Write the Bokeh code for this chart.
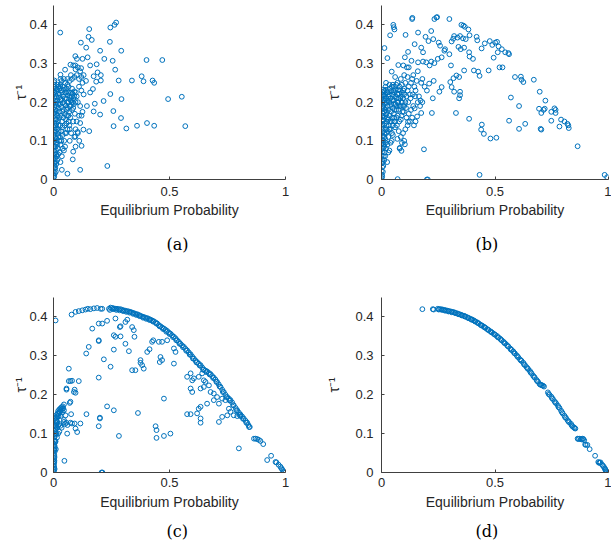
from bokeh.plotting import figure
from bokeh.layouts import gridplot
from bokeh.models import Title, Range1d, FixedTicker
from bokeh.embed import file_html
from bokeh.resources import INLINE

# ---------------- data ----------------
a_pts = [
    (0.029,0.380),(0.154,0.389),(0.270,0.406),(0.263,0.400),(0.245,0.393),(0.151,0.369),(0.165,0.361),
    (0.118,0.354),(0.243,0.356),(0.141,0.341),(0.201,0.333),(0.292,0.333),(0.094,0.319),(0.147,0.316),
    (0.101,0.312),(0.125,0.312),(0.219,0.312),(0.255,0.307),(0.401,0.309),(0.469,0.309),(0.073,0.297),
    (0.186,0.298),(0.119,0.288),(0.266,0.284),(0.050,0.284),(0.094,0.295),(0.158,0.295),(0.190,0.277),
    (0.204,0.270),(0.173,0.267),(0.184,0.253),(0.204,0.256),(0.281,0.256),(0.338,0.256),(0.380,0.267),
    (0.388,0.254),(0.427,0.256),(0.434,0.250),(0.030,0.271),(0.004,0.256),(0.029,0.240),(0.170,0.234),
    (0.245,0.221),(0.158,0.225),(0.293,0.208),(0.216,0.203),(0.494,0.208),(0.553,0.214),(0.178,0.196),
    (0.144,0.190),(0.173,0.176),(0.258,0.177),(0.201,0.168),(0.291,0.159),(0.259,0.138),(0.314,0.132),
    (0.360,0.139),(0.403,0.146),(0.434,0.139),(0.568,0.138),(0.121,0.165),(0.129,0.129),(0.154,0.125),
    (0.115,0.146),(0.104,0.123),(0.094,0.111),(0.111,0.100),(0.121,0.087),(0.095,0.085),(0.085,0.072),
    (0.083,0.052),(0.232,0.035),(0.115,0.025),(0.060,0.015),(0.036,0.025),
    # dense cluster near the origin
    (0.001,0.005),(0.002,0.012),(0.001,0.020),(0.003,0.028),(0.002,0.036),(0.004,0.044),(0.001,0.052),
    (0.003,0.060),(0.005,0.068),(0.002,0.076),(0.004,0.084),(0.006,0.092),(0.003,0.100),(0.005,0.108),
    (0.002,0.116),(0.007,0.124),(0.004,0.132),(0.006,0.140),(0.003,0.148),(0.008,0.156),(0.005,0.164),
    (0.002,0.172),(0.007,0.180),(0.004,0.188),(0.009,0.196),(0.006,0.204),(0.003,0.212),(0.008,0.220),
    (0.005,0.228),(0.010,0.236),(0.004,0.245),(0.002,0.252),
    (0.010,0.020),(0.012,0.040),(0.014,0.060),(0.011,0.075),(0.016,0.090),(0.013,0.105),(0.018,0.118),
    (0.015,0.130),(0.012,0.145),(0.020,0.152),(0.017,0.165),(0.014,0.178),(0.022,0.185),(0.019,0.195),
    (0.016,0.205),(0.024,0.212),(0.020,0.222),(0.015,0.232),(0.026,0.236),
    (0.026,0.070),(0.030,0.090),(0.028,0.110),(0.033,0.125),(0.030,0.140),(0.036,0.150),(0.032,0.165),
    (0.038,0.175),(0.035,0.188),(0.040,0.198),(0.034,0.208),(0.042,0.215),(0.037,0.225),(0.045,0.232),
    (0.030,0.045),(0.036,0.060),(0.040,0.080),
    (0.046,0.100),(0.050,0.120),(0.048,0.140),(0.054,0.155),(0.050,0.170),(0.057,0.180),(0.053,0.192),
    (0.060,0.200),(0.056,0.210),(0.062,0.218),(0.058,0.228),(0.066,0.225),(0.050,0.085),(0.060,0.130),
    (0.064,0.165),
    (0.070,0.190),(0.074,0.205),(0.078,0.215),(0.082,0.222),(0.086,0.210),(0.090,0.228),(0.072,0.160),
    (0.080,0.180),(0.088,0.195),(0.095,0.200),(0.100,0.215),(0.068,0.140),(0.076,0.120),(0.070,0.100),
    (0.085,0.150),(0.092,0.170),
    (0.020,0.240),(0.030,0.245),(0.040,0.240),(0.050,0.250),(0.060,0.245),(0.070,0.255),(0.080,0.260),
    (0.090,0.265),(0.100,0.270),(0.110,0.260),(0.120,0.265),(0.130,0.270),(0.105,0.290),(0.115,0.280),
    (0.125,0.250),(0.140,0.255),(0.085,0.295),(0.095,0.285),(0.075,0.270),(0.110,0.240),(0.120,0.230),
    (0.130,0.220),(0.105,0.200),(0.115,0.190),(0.125,0.175),(0.110,0.165),(0.100,0.150),(0.095,0.130),
    (0.105,0.120),(0.090,0.110),
    (0.003,0.008),(0.006,0.016),(0.008,0.030),(0.010,0.045),(0.007,0.055),(0.012,0.065),(0.009,0.085),
    (0.013,0.095),(0.008,0.110),(0.011,0.125),(0.009,0.140),(0.012,0.155),(0.010,0.170),(0.013,0.190),
    (0.011,0.200),(0.012,0.215),(0.013,0.228),(0.018,0.080),(0.020,0.110),(0.022,0.140),(0.024,0.160),
    (0.026,0.175),(0.028,0.195),(0.030,0.205),(0.027,0.220),(0.033,0.230),(0.022,0.125),(0.025,0.100),
    (0.034,0.100),(0.038,0.135),(0.042,0.160),(0.044,0.180),(0.046,0.195),(0.048,0.210),(0.052,0.225),
    (0.040,0.115),(0.056,0.145),(0.058,0.165),(0.062,0.185),(0.066,0.200),(0.070,0.213),(0.075,0.225),
    (0.068,0.175),(0.074,0.190),(0.083,0.200),(0.090,0.215),(0.096,0.225),(0.016,0.050),(0.020,0.065),
    (0.005,0.035),(0.004,0.175),(0.003,0.225),(0.001,0.240),(0.018,0.245),(0.035,0.255),(0.045,0.260),
    (0.055,0.235),(0.065,0.240),(0.080,0.235),(0.060,0.260),(0.030,0.260),(0.078,0.200),(0.085,0.185),
    (0.065,0.150),(0.055,0.120),(0.045,0.075),(0.070,0.130),
]

b_pts = [
    (0.013,0.340),(0.026,0.314),(0.038,0.373),(0.052,0.400),(0.054,0.394),(0.057,0.388),(0.106,0.374),
    (0.135,0.415),(0.136,0.418),(0.161,0.380),(0.194,0.369),(0.219,0.384),(0.233,0.415),(0.242,0.419),
    (0.245,0.420),(0.299,0.415),(0.207,0.358),(0.228,0.363),(0.252,0.354),(0.258,0.346),(0.277,0.333),
    (0.299,0.324),(0.175,0.341),(0.183,0.329),(0.146,0.350),(0.117,0.330),(0.103,0.316),(0.132,0.307),
    (0.096,0.295),(0.112,0.290),(0.074,0.296),(0.045,0.279),(0.161,0.303),(0.183,0.305),(0.197,0.303),
    (0.219,0.305),(0.233,0.301),(0.212,0.295),(0.248,0.312),(0.265,0.316),(0.280,0.337),(0.309,0.357),
    (0.316,0.364),(0.320,0.371),(0.335,0.367),(0.346,0.371),(0.352,0.400),(0.361,0.398),(0.367,0.395),
    (0.383,0.388),(0.359,0.365),(0.371,0.363),(0.388,0.373),(0.339,0.343),(0.349,0.337),(0.364,0.341),
    (0.386,0.329),(0.388,0.318),(0.403,0.312),(0.419,0.369),(0.422,0.360),(0.441,0.339),(0.455,0.352),
    (0.477,0.358),(0.488,0.348),(0.501,0.354),(0.509,0.356),(0.516,0.344),(0.512,0.329),(0.530,0.337),
    (0.545,0.329),(0.559,0.327),(0.562,0.324),(0.494,0.315),(0.520,0.290),(0.533,0.290),(0.472,0.282),
    (0.407,0.282),(0.426,0.279),(0.432,0.268),(0.364,0.282),(0.306,0.295),(0.303,0.252),(0.309,0.239),
    (0.342,0.265),(0.330,0.269),(0.317,0.262),(0.346,0.227),(0.346,0.218),(0.342,0.210),(0.320,0.227),
    (0.265,0.239),(0.255,0.227),(0.230,0.255),(0.210,0.248),(0.226,0.210),(0.222,0.172),(0.172,0.204),
    (0.146,0.184),(0.175,0.172),(0.157,0.163),(0.143,0.140),(0.117,0.149),(0.328,0.172),(0.386,0.157),
    (0.442,0.142),(0.439,0.129),(0.451,0.118),(0.480,0.106),(0.506,0.108),(0.187,0.078),(0.088,0.074),
    (0.081,0.082),(0.103,0.091),(0.432,0.012),(0.071,0.001),(0.204,0.000),(0.200,0.000),(0.983,0.012),
    (0.994,0.006),(0.588,0.265),(0.614,0.266),(0.617,0.258),(0.625,0.252),(0.671,0.258),(0.697,0.227),
    (0.570,0.212),(0.606,0.190),(0.694,0.183),(0.714,0.180),(0.719,0.183),(0.722,0.204),(0.704,0.172),
    (0.748,0.175),(0.762,0.184),(0.767,0.172),(0.767,0.180),(0.748,0.152),(0.791,0.155),(0.806,0.150),
    (0.819,0.144),(0.823,0.140),(0.825,0.133),(0.784,0.137),(0.633,0.144),(0.562,0.152),(0.606,0.131),
    (0.701,0.131),(0.704,0.129),(0.864,0.086),
    # dense cluster near the origin
    (0.001,0.004),(0.002,0.012),(0.001,0.022),(0.003,0.032),(0.002,0.042),(0.004,0.052),(0.001,0.062),
    (0.003,0.072),(0.005,0.082),(0.002,0.092),(0.004,0.102),(0.006,0.112),(0.003,0.122),(0.005,0.132),
    (0.002,0.142),(0.007,0.152),(0.004,0.162),(0.006,0.172),(0.003,0.182),(0.008,0.190),(0.005,0.200),
    (0.002,0.210),(0.007,0.218),(0.004,0.226),(0.009,0.232),(0.006,0.165),(0.012,0.050),(0.014,0.070),
    (0.011,0.090),(0.016,0.105),(0.013,0.120),(0.018,0.130),(0.015,0.145),(0.012,0.160),(0.020,0.168),
    (0.017,0.180),(0.014,0.195),(0.022,0.200),(0.019,0.210),(0.016,0.220),(0.024,0.226),(0.020,0.232),
    (0.026,0.090),(0.030,0.110),(0.028,0.125),(0.033,0.140),(0.030,0.155),(0.036,0.165),(0.032,0.180),
    (0.038,0.190),(0.035,0.200),(0.040,0.210),(0.034,0.220),(0.042,0.228),(0.037,0.235),(0.025,0.045),
    (0.035,0.075),(0.046,0.120),(0.050,0.140),(0.048,0.160),(0.054,0.170),(0.050,0.185),(0.057,0.195),
    (0.053,0.205),(0.060,0.215),(0.056,0.225),(0.062,0.232),(0.045,0.100),(0.060,0.150),(0.066,0.180),
    (0.070,0.200),(0.074,0.210),(0.078,0.222),(0.082,0.230),(0.086,0.215),(0.090,0.225),(0.072,0.165),
    (0.080,0.190),(0.088,0.200),(0.095,0.210),(0.100,0.220),(0.068,0.140),(0.076,0.125),(0.070,0.105),
    (0.085,0.155),(0.092,0.175),(0.100,0.190),(0.105,0.200),(0.110,0.215),(0.100,0.235),(0.090,0.245),
    (0.105,0.250),(0.115,0.230),(0.120,0.240),(0.125,0.220),(0.130,0.250),(0.135,0.260),(0.140,0.270),
    (0.145,0.240),(0.150,0.230),(0.155,0.255),(0.160,0.200),(0.165,0.215),(0.140,0.190),(0.130,0.180),
    (0.120,0.170),(0.110,0.160),(0.115,0.140),(0.125,0.150),(0.135,0.160),(0.150,0.150),(0.105,0.130),
    (0.095,0.120),(0.085,0.110),(0.090,0.095),(0.080,0.080),(0.100,0.100),(0.020,0.250),(0.050,0.245),
    (0.070,0.250),(0.085,0.260),(0.100,0.270),(0.115,0.265),(0.060,0.265),(0.120,0.290),(0.175,0.250),
    (0.180,0.260),(0.160,0.280),(0.190,0.240),(0.200,0.230),(0.170,0.190),(0.180,0.200),
    (0.003,0.008),(0.006,0.020),(0.008,0.035),(0.010,0.060),(0.007,0.080),(0.012,0.085),(0.009,0.100),
    (0.013,0.110),(0.008,0.125),(0.011,0.140),(0.009,0.155),(0.012,0.175),(0.010,0.185),(0.013,0.205),
    (0.011,0.215),(0.012,0.228),(0.018,0.095),(0.020,0.120),(0.022,0.150),(0.024,0.175),(0.026,0.190),
    (0.028,0.205),(0.030,0.215),(0.027,0.225),(0.022,0.140),(0.025,0.160),(0.034,0.130),(0.038,0.150),
    (0.042,0.175),(0.044,0.195),(0.046,0.205),(0.048,0.220),(0.052,0.230),(0.040,0.130),(0.056,0.160),
    (0.058,0.180),(0.062,0.195),(0.066,0.210),(0.070,0.220),(0.075,0.232),(0.068,0.190),(0.074,0.200),
    (0.083,0.210),(0.090,0.200),(0.096,0.230),(0.016,0.060),(0.020,0.080),(0.005,0.045),(0.004,0.190),
    (0.003,0.220),(0.018,0.240),(0.035,0.245),(0.045,0.240),(0.055,0.240),(0.065,0.245),(0.080,0.240),
    (0.045,0.150),(0.055,0.150),(0.065,0.160),(0.075,0.180),(0.085,0.190),(0.095,0.190),(0.060,0.135),
    (0.050,0.115),(0.040,0.095),(0.030,0.070),(0.078,0.150),(0.088,0.165),(0.098,0.175),(0.108,0.185),
    (0.118,0.200),(0.128,0.210),(0.138,0.220),(0.148,0.215),
]

c_pts = [
    # upper-left branch
    (0.078,0.406),(0.095,0.413),(0.109,0.415),(0.124,0.417),(0.138,0.419),(0.148,0.421),(0.159,0.420),
    (0.174,0.422),(0.188,0.423),(0.203,0.421),(0.210,0.421),
    # main arc
    (0.239,0.421),(0.246,0.424),(0.253,0.423),(0.260,0.422),(0.267,0.421),(0.274,0.421),(0.281,0.420),
    (0.289,0.420),(0.296,0.418),(0.303,0.417),(0.310,0.416),(0.318,0.415),(0.325,0.414),(0.332,0.413),
    (0.339,0.411),(0.346,0.410),(0.353,0.408),(0.361,0.407),(0.368,0.405),(0.375,0.403),(0.382,0.401),
    (0.389,0.400),(0.396,0.398),(0.404,0.397),(0.411,0.395),(0.418,0.393),(0.425,0.391),(0.432,0.389),
    (0.440,0.386),(0.447,0.383),(0.454,0.379),(0.461,0.376),(0.468,0.373),(0.476,0.370),(0.483,0.367),
    (0.490,0.364),(0.497,0.360),(0.504,0.357),(0.511,0.353),(0.519,0.349),(0.526,0.345),(0.533,0.340),
    (0.540,0.336),(0.547,0.331),(0.554,0.327),(0.562,0.323),(0.569,0.318),(0.576,0.314),(0.583,0.309),
    (0.591,0.304),(0.598,0.298),(0.605,0.293),(0.612,0.288),(0.619,0.284),(0.626,0.280),(0.634,0.276),
    (0.641,0.270),(0.648,0.265),(0.655,0.262),(0.662,0.260),(0.670,0.256),(0.677,0.253),(0.684,0.248),
    (0.691,0.244),(0.698,0.239),(0.705,0.233),(0.712,0.227),(0.720,0.220),(0.727,0.213),(0.734,0.207),
    (0.741,0.200),(0.749,0.194),(0.756,0.190),(0.763,0.186),(0.770,0.180),(0.777,0.173),(0.785,0.166),
    (0.792,0.160),(0.799,0.154),(0.806,0.149),(0.813,0.144),(0.820,0.139),(0.828,0.133),(0.835,0.128),
    (0.840,0.122),(0.846,0.117),(0.864,0.087),(0.871,0.087),(0.878,0.086),(0.885,0.084),(0.892,0.081),
    (0.904,0.073),(0.921,0.032),(0.938,0.043),(0.957,0.027),(0.961,0.026),(0.970,0.020),(0.978,0.015),
    (0.982,0.011),(0.986,0.008),(0.990,0.003),(0.993,0.000),
    (0.243,0.418),(0.257,0.420),(0.271,0.418),(0.285,0.417),(0.300,0.415),(0.314,0.413),(0.328,0.411),
    (0.343,0.408),(0.357,0.405),(0.371,0.402),(0.386,0.398),(0.400,0.395),(0.414,0.392),(0.429,0.388),
    (0.443,0.383),(0.457,0.376),(0.472,0.369),(0.486,0.362),(0.500,0.356),(0.515,0.348),(0.529,0.340),
    (0.543,0.331),(0.558,0.322),(0.572,0.313),(0.587,0.303),(0.601,0.293),(0.616,0.283),(0.630,0.275),
    (0.645,0.264),(0.659,0.258),(0.673,0.252),(0.688,0.243),(0.702,0.233),(0.716,0.221),(0.730,0.207),
    (0.745,0.194),(0.759,0.185),(0.774,0.173),(0.788,0.160),(0.802,0.148),(0.817,0.138),(0.831,0.128),
    (0.843,0.117),
    # interior points
    (0.009,0.391),(0.167,0.370),(0.195,0.383),(0.210,0.383),(0.231,0.390),(0.267,0.396),(0.289,0.376),
    (0.286,0.374),(0.310,0.387),(0.318,0.393),(0.339,0.374),(0.260,0.353),(0.267,0.349),(0.289,0.350),
    (0.310,0.331),(0.346,0.366),(0.349,0.349),(0.195,0.340),(0.152,0.323),(0.141,0.306),(0.217,0.291),
    (0.260,0.316),(0.325,0.312),(0.375,0.289),(0.375,0.282),(0.246,0.272),(0.339,0.263),(0.353,0.263),
    (0.382,0.276),(0.389,0.267),(0.404,0.310),(0.414,0.317),(0.425,0.336),(0.430,0.340),(0.454,0.336),
    (0.468,0.336),(0.461,0.297),(0.468,0.289),(0.458,0.284),(0.519,0.319),(0.526,0.310),(0.519,0.280),
    (0.490,0.340),(0.576,0.246),(0.591,0.255),(0.598,0.237),(0.591,0.216),(0.598,0.207),(0.605,0.242),
    (0.626,0.246),(0.641,0.255),(0.648,0.237),(0.655,0.233),(0.670,0.224),(0.634,0.216),(0.648,0.220),
    (0.677,0.207),(0.691,0.203),(0.662,0.177),(0.691,0.186),(0.705,0.194),(0.713,0.177),(0.727,0.190),
    (0.741,0.186),(0.756,0.164),(0.763,0.156),(0.777,0.147),(0.792,0.145),(0.806,0.145),(0.749,0.147),
    (0.727,0.143),(0.713,0.130),(0.634,0.169),(0.626,0.164),(0.619,0.152),(0.576,0.150),(0.591,0.150),
    (0.634,0.139),(0.634,0.128),(0.799,0.062),(0.476,0.190),(0.440,0.119),(0.444,0.109),(0.444,0.089),
    (0.476,0.094),(0.504,0.100),(0.282,0.094),(0.364,0.153),(0.260,0.160),(0.231,0.170),(0.200,0.139),
    (0.195,0.119),(0.200,0.141),(0.195,0.338),(0.195,0.244),(0.142,0.150),(0.116,0.126),(0.091,0.126),
    (0.095,0.113),(0.102,0.104),(0.059,0.100),(0.076,0.150),(0.070,0.179),(0.073,0.182),(0.066,0.235),
    (0.073,0.235),(0.080,0.236),(0.109,0.235),(0.066,0.267),(0.056,0.213),(0.056,0.216),(0.091,0.213),
    (0.095,0.205),(0.088,0.207),(0.047,0.030),(0.073,0.128),(0.080,0.126),(0.207,0.000),(0.211,0.000),
    (0.052,0.147),(0.045,0.130),
    # dense cluster near the origin
    (0.001,0.003),(0.002,0.010),(0.001,0.018),(0.003,0.026),(0.002,0.034),(0.004,0.042),(0.001,0.050),
    (0.003,0.058),(0.005,0.066),(0.002,0.074),(0.006,0.082),(0.004,0.090),(0.008,0.098),(0.006,0.106),
    (0.010,0.112),(0.008,0.120),(0.012,0.126),(0.010,0.134),(0.015,0.140),(0.013,0.148),(0.018,0.152),
    (0.020,0.158),(0.025,0.162),(0.030,0.165),(0.035,0.168),(0.040,0.170),(0.045,0.175),(0.028,0.155),
    (0.022,0.145),(0.016,0.130),(0.012,0.100),(0.009,0.080),(0.006,0.055),(0.004,0.030),(0.015,0.115),
    (0.020,0.120),(0.025,0.125),(0.030,0.120),(0.020,0.100),(0.025,0.105),(0.035,0.115),(0.030,0.145),
    (0.040,0.155),(0.045,0.160),(0.010,0.060),(0.015,0.090),(0.005,0.120),(0.007,0.140),(0.050,0.125),
    (0.045,0.135),(0.055,0.128),(0.060,0.122),
    (0.002,0.006),(0.003,0.014),(0.002,0.022),(0.004,0.038),(0.003,0.046),(0.005,0.062),(0.004,0.070),
    (0.007,0.078),(0.006,0.094),(0.009,0.102),(0.008,0.110),(0.011,0.118),(0.013,0.132),(0.017,0.144),
    (0.021,0.150),(0.026,0.157),(0.032,0.160),(0.037,0.163),(0.042,0.165),(0.005,0.009),(0.001,0.028),
    (0.002,0.058),(0.003,0.082),
]

d_pts = [
    (0.180,0.420),(0.226,0.420),(0.248,0.421),(0.255,0.420),(0.262,0.420),(0.270,0.419),(0.277,0.418),
    (0.284,0.417),(0.291,0.416),(0.298,0.415),(0.306,0.414),(0.313,0.413),(0.320,0.412),(0.327,0.410),
    (0.335,0.409),(0.342,0.407),(0.349,0.406),(0.356,0.404),(0.364,0.403),(0.371,0.401),(0.378,0.399),
    (0.385,0.397),(0.393,0.395),(0.400,0.393),(0.407,0.391),(0.414,0.388),(0.422,0.386),(0.429,0.383),
    (0.436,0.380),(0.443,0.378),(0.451,0.375),(0.458,0.372),(0.465,0.369),(0.472,0.366),(0.480,0.363),
    (0.487,0.360),(0.494,0.357),(0.501,0.354),(0.509,0.351),(0.516,0.347),(0.523,0.344),(0.530,0.340),
    (0.538,0.336),(0.545,0.332),(0.552,0.328),(0.559,0.324),(0.567,0.319),(0.574,0.315),(0.581,0.311),
    (0.588,0.306),(0.596,0.301),(0.603,0.296),(0.610,0.291),(0.617,0.287),(0.625,0.282),(0.632,0.276),
    (0.639,0.271),(0.646,0.266),(0.654,0.261),(0.661,0.255),(0.668,0.249),(0.675,0.244),(0.683,0.238),
    (0.690,0.233),(0.697,0.227),(0.704,0.225),(0.712,0.223),(0.716,0.221),(0.733,0.206),(0.740,0.200),
    (0.748,0.195),(0.755,0.189),(0.762,0.183),(0.769,0.178),(0.777,0.172),(0.784,0.166),(0.791,0.159),
    (0.798,0.152),(0.806,0.146),(0.813,0.140),(0.820,0.134),(0.827,0.129),(0.835,0.125),(0.842,0.118),
    (0.848,0.116),(0.854,0.113),(0.864,0.087),(0.871,0.087),(0.878,0.086),(0.886,0.087),(0.893,0.083),
    (0.897,0.072),(0.907,0.071),(0.917,0.060),(0.941,0.043),(0.955,0.027),(0.961,0.025),(0.965,0.026),
    (0.972,0.020),(0.980,0.014),(0.984,0.010),(0.987,0.006),(0.990,0.003),(0.992,0.001),
    (0.230,0.419),(0.252,0.419),(0.266,0.418),(0.280,0.416),(0.295,0.414),(0.309,0.412),(0.324,0.410),
    (0.338,0.407),(0.353,0.404),(0.367,0.401),(0.382,0.397),(0.396,0.393),(0.411,0.389),(0.425,0.384),
    (0.440,0.378),(0.454,0.373),(0.469,0.367),(0.483,0.361),(0.498,0.355),(0.512,0.348),(0.527,0.341),
    (0.541,0.333),(0.556,0.325),(0.570,0.316),(0.585,0.307),(0.599,0.298),(0.614,0.288),(0.628,0.278),
    (0.643,0.268),(0.657,0.257),(0.672,0.246),(0.686,0.235),(0.700,0.226),(0.708,0.224),(0.736,0.202),
    (0.751,0.191),(0.766,0.180),(0.780,0.168),(0.795,0.155),(0.809,0.142),(0.824,0.131),(0.838,0.121),
    (0.851,0.114),(0.867,0.086),(0.882,0.085),(0.889,0.086),(0.900,0.071),(0.958,0.025),(0.976,0.017),
    (0.986,0.008),
]

x_ticks = [0, 0.5, 1]
x_tick_labels = ["0", "0.5", "1"]
y_ticks = [0, 0.1, 0.2, 0.3, 0.4]
y_tick_labels = ["0", "0.1", "0.2", "0.3", "0.4"]
captions = ["(a)", "(b)", "(c)", "(d)"]
x_label = "Equilibrium Probability"
y_label = "τ⁻¹"

BLUE = "#0072BD"
AXIS = "#404040"
TEXT = "#262626"


def panel(pts, caption, width, height, bl, br, bt, bb,
          xstand, ystand, xlstand, ylstand, cap_stand, cap_off):
    p = figure(width=width, height=height, output_backend="svg", toolbar_location=None,
               x_range=Range1d(0, 1), y_range=Range1d(0, 0.45),
               min_border_left=bl, min_border_right=br, min_border_top=bt, min_border_bottom=bb)
    p.title.visible = False
    p.outline_line_color = None
    p.background_fill_color = "white"
    p.border_fill_color = "white"
    p.grid.visible = False
    p.scatter([q[0] for q in pts], [q[1] for q in pts], marker="circle", size=4.8,
              fill_color=None, line_color=BLUE, line_width=1)
    for ax, ticks, labels, st, lst in ((p.xaxis, x_ticks, x_tick_labels, xstand, xlstand),
                                       (p.yaxis, y_ticks, y_tick_labels, ystand, ylstand)):
        ax.ticker = FixedTicker(ticks=ticks)
        ax.major_label_overrides = {t: l for t, l in zip(ticks, labels)}
        ax.minor_tick_line_color = None
        ax.major_tick_in = 3
        ax.major_tick_out = 0
        ax.axis_line_color = AXIS
        ax.major_tick_line_color = AXIS
        ax.major_label_text_font = "Liberation Sans"
        ax.major_label_text_font_size = "13px"
        ax.major_label_text_color = TEXT
        ax.major_label_standoff = st
        ax.axis_label_text_font = "Liberation Sans"
        ax.axis_label_text_font_size = "14px"
        ax.axis_label_text_font_style = "normal"
        ax.axis_label_text_color = TEXT
        ax.axis_label_standoff = lst
    p.xaxis.axis_label = x_label
    p.yaxis.axis_label = y_label
    p.add_layout(Title(text=caption, align="left", offset=cap_off, text_font="DejaVu Serif",
                       text_font_size="16px", text_font_style="normal",
                       text_color="black", standoff=cap_stand), "below")
    return p


# width, height, border left/right/top/bottom, tick & label standoffs, caption standoff/offset
pa = panel(a_pts, captions[0], 323, 270, 53, 38, 5, 91, 7, 6, 3, -3, 24, 113)
pb = panel(b_pts, captions[1], 288, 270, 55, 3, 2, 91, 7, 8, 3, 10, 24, 94)
pc = panel(c_pts, captions[2], 323, 277, 53, 38, 27, 75, 5, 6, 4, -3, 14, 113)
pd = panel(d_pts, captions[3], 288, 277, 55, 3, 26, 75, 5, 8, 4, 10, 14, 94)

grid = gridplot([[pa, pb], [pc, pd]], toolbar_location=None)

open("out.html", "w").write(file_html(grid, INLINE))
